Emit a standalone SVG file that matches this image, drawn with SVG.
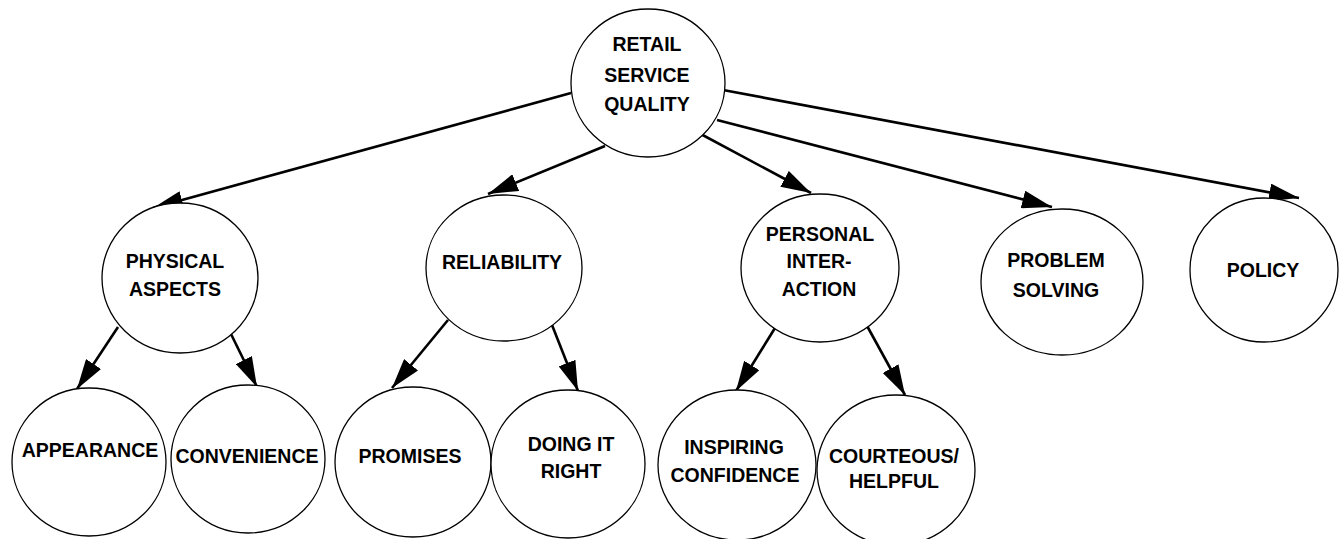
<svg xmlns="http://www.w3.org/2000/svg" width="1343" height="539" viewBox="0 0 1343 539">
<style>
.n ellipse{fill:#fff;stroke:#000;stroke-width:1.3}
.n text{font-family:"Liberation Sans",Arial,sans-serif;font-weight:bold;font-size:19.5px;text-anchor:middle;fill:#000}
.c line{stroke:#000;stroke-width:2.6;marker-end:url(#ah)}
</style>
<defs>
<marker id="ah" viewBox="0 0 30 18" refX="30" refY="9" markerWidth="30" markerHeight="18" markerUnits="userSpaceOnUse" orient="auto">
<path d="M0,0 L30,9 L0,18 Z" fill="#000"/>
</marker>
</defs>
<rect width="1343" height="539" fill="#fff"/>
<g class="c" id="connectors">
<line x1="571" y1="93" x2="153" y2="208"/>
<line x1="605" y1="146" x2="488" y2="194"/>
<line x1="697" y1="132" x2="811" y2="193"/>
<line x1="717" y1="120" x2="1052" y2="207"/>
<line x1="723" y1="90" x2="1299" y2="198"/>
<line x1="118" y1="327" x2="77" y2="389"/>
<line x1="230" y1="332" x2="257" y2="387"/>
<line x1="448" y1="320" x2="392" y2="388"/>
<line x1="552" y1="325" x2="578" y2="391"/>
<line x1="775" y1="328" x2="736" y2="391"/>
<line x1="866" y1="324" x2="905" y2="395"/>
</g>
<g class="n" id="root">
<ellipse cx="648" cy="83" rx="77" ry="74"/>
<text x="647" y="51">RETAIL</text>
<text x="647" y="82">SERVICE</text>
<text x="647" y="111">QUALITY</text>
</g>
<g class="n" id="physical">
<ellipse cx="180" cy="278" rx="78" ry="75"/>
<text x="175" y="268">PHYSICAL</text>
<text x="175" y="296">ASPECTS</text>
</g>
<g class="n" id="reliability">
<ellipse cx="504" cy="268" rx="78" ry="73"/>
<text x="502" y="269">RELIABILITY</text>
</g>
<g class="n" id="personal">
<ellipse cx="820" cy="268" rx="79" ry="74"/>
<text x="820" y="241">PERSONAL</text>
<text x="819" y="268">INTER-</text>
<text x="819" y="296">ACTION</text>
</g>
<g class="n" id="problem">
<ellipse cx="1062" cy="282" rx="81" ry="73"/>
<text x="1056" y="267">PROBLEM</text>
<text x="1056" y="297">SOLVING</text>
</g>
<g class="n" id="policy">
<ellipse cx="1264" cy="270" rx="74" ry="72"/>
<text x="1263" y="277">POLICY</text>
</g>
<g class="n" id="appearance">
<ellipse cx="89" cy="462" rx="77" ry="74"/>
<text x="90" y="457">APPEARANCE</text>
</g>
<g class="n" id="convenience">
<ellipse cx="248" cy="459" rx="77" ry="74"/>
<text x="247" y="463">CONVENIENCE</text>
</g>
<g class="n" id="promises">
<ellipse cx="413" cy="462" rx="78" ry="75"/>
<text x="410" y="463">PROMISES</text>
</g>
<g class="n" id="doing">
<ellipse cx="568" cy="464" rx="77" ry="74"/>
<text x="571" y="451">DOING IT</text>
<text x="571" y="478">RIGHT</text>
</g>
<g class="n" id="inspiring">
<ellipse cx="737" cy="465" rx="79" ry="75"/>
<text x="734" y="454">INSPIRING</text>
<text x="735" y="482">CONFIDENCE</text>
</g>
<g class="n" id="courteous">
<ellipse cx="896" cy="470" rx="79" ry="75"/>
<text x="894" y="463">COURTEOUS/</text>
<text x="894" y="488">HELPFUL</text>
</g>
</svg>
